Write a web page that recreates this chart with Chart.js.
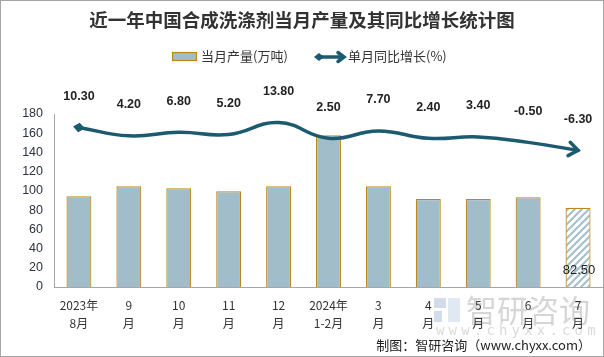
<!DOCTYPE html>
<html>
<head>
<meta charset="utf-8">
<script src="https://cdn.jsdelivr.net/npm/chart.js@4.4.1/dist/chart.umd.min.js"></script>
<style>
html,body{margin:0;padding:0;background:#fff;}
#wrap{width:604px;height:357px;position:relative;}
</style>
</head>
<body>
<div id="wrap"><canvas id="c" width="604" height="357"></canvas></div>
<script>
const titleText = '近一年中国合成洗涤剂当月产量及其同比增长统计图';
const categories = [['2023年','8月'],['9','月'],['10','月'],['11','月'],['12','月'],['2024年','1-2月'],['3','月'],['4','月'],['5','月'],['6','月'],['7','月']];
const output = [94.3, 104.8, 102.7, 99.6, 104.8, 158.0, 104.8, 91.5, 91.5, 93.3, 82.5];
const growth = [10.3, 4.2, 6.8, 5.2, 13.8, 2.5, 7.7, 2.4, 3.4, -0.5, -6.3];
const legendOutput = '当月产量(万吨)';
const legendGrowth = '单月同比增长(%)';
const yTicks = {min: 0, max: 180, step: 20};
const footerText = '制图：智研咨询（www.chyxx.com）';

const BAR = '#a1bdca', BAR_BORDER = '#b8891c', LINE = '#1c5a70', TXT = '#333333';
const CJK = '"Noto Sans CJK SC", "Liberation Sans", sans-serif';
const NUM = '"Liberation Sans", "Noto Sans CJK SC", sans-serif';

function hatch(){
  const p = document.createElement('canvas'); p.width = 7; p.height = 7;
  const g = p.getContext('2d');
  g.fillStyle = '#fff'; g.fillRect(0,0,7,7);
  g.strokeStyle = '#a3bfcc'; g.lineWidth = 2;
  g.beginPath();
  g.moveTo(-1,8); g.lineTo(8,-1);
  g.moveTo(-1,1); g.lineTo(1,-1);
  g.moveTo(6,8); g.lineTo(8,6);
  g.stroke();
  return g.createPattern(p,'repeat');
}
const ctx0 = document.getElementById('c').getContext('2d');
const pat = hatch();
const barColors = output.map((v,i)=> i === output.length-1 ? pat : BAR);

function drawArrowHead(ctx, x, y, ang, size, lw){
  ctx.save();
  ctx.translate(x,y); ctx.rotate(ang);
  ctx.strokeStyle = LINE; ctx.lineWidth = lw; ctx.lineCap='round'; ctx.lineJoin='miter';
  ctx.beginPath();
  ctx.moveTo(-size, -size*0.75); ctx.lineTo(0,0); ctx.lineTo(-size, size*0.75);
  ctx.stroke();
  ctx.restore();
}
function drawDiamond(ctx, x, y, ang, s){
  ctx.save(); ctx.translate(x,y); ctx.rotate(ang);
  ctx.fillStyle = LINE;
  ctx.beginPath(); ctx.moveTo(-s,0); ctx.lineTo(0,-s*0.8); ctx.lineTo(s,0); ctx.lineTo(0,s*0.8); ctx.closePath(); ctx.fill();
  ctx.restore();
}

const decor = {
  id:'decor',
  beforeDraw(chart){
    const ctx = chart.ctx;
    ctx.save();
    ctx.fillStyle = '#fff'; ctx.fillRect(0,0,chart.width,chart.height);
    ctx.globalAlpha = 0.9;
    ctx.fillStyle = '#cdd8e8';
    ctx.fillRect(434,298,12,10);
    ctx.fillRect(434,311,8,11);
    ctx.fillStyle = '#dde5f0';
    ctx.fillRect(448,298,12,24);
    ctx.fillStyle = '#d2d2d2';
    ctx.font = '31px ' + CJK; ctx.textBaseline='middle'; ctx.textAlign='left';
    ctx.fillText('智研咨询', 466, 310);
    ctx.font = '14px "DejaVu Sans Mono", monospace';
    ctx.fillStyle = '#d6d6d6';
    const w = 'www.chyxx.com';
    for (let i=0;i<w.length;i++) ctx.fillText(w[i], 436 + i*12.6, 331);
    ctx.restore();
  },
  afterDatasetsDraw(chart){
    const ctx = chart.ctx;
    const meta = chart.getDatasetMeta(1);
    const pts = meta.data;
    const p0 = pts[0], p1 = pts[1];
    drawDiamond(ctx, p0.x, p0.y, Math.atan2(p1.y-p0.y, p1.x-p0.x), 6);
    const pn = pts[pts.length-1];
    const cp = pn.cp1x !== undefined ? {x: pn.cp1x, y: pn.cp1y} : pts[pts.length-2];
    drawArrowHead(ctx, pn.x, pn.y, Math.atan2(pn.y-cp.y, pn.x-cp.x), 9, 3.5);
    ctx.save();
    ctx.fillStyle = '#222'; ctx.font = 'bold 12.5px ' + NUM;
    ctx.textAlign='center'; ctx.textBaseline='middle';
    pts.forEach((p,i)=>{ ctx.fillText(growth[i].toFixed(2), p.x, p.y - 31); });
    const bm = chart.getDatasetMeta(0).data;
    const lb = bm[bm.length-1];
    ctx.font = '13px ' + NUM; ctx.fillStyle = '#222';
    ctx.fillText(output[output.length-1].toFixed(2), lb.x + 1, lb.base - 17);
    ctx.restore();
  },
  afterDraw(chart){
    const ctx = chart.ctx;
    ctx.save();
    ctx.fillStyle = '#333'; ctx.font = 'bold 18.5px ' + CJK;
    ctx.textAlign='center'; ctx.textBaseline='middle';
    ctx.fillText(titleText, 302, 20);
    ctx.font = '13px ' + CJK; ctx.textAlign='left';
    ctx.fillStyle = BAR; ctx.fillRect(172.5,52.5,24,8);
    ctx.strokeStyle = BAR_BORDER; ctx.lineWidth = 1.2; ctx.strokeRect(172.5,52.5,24,8);
    ctx.fillStyle = '#333';
    ctx.fillText(legendOutput, 201, 56.5);
    ctx.strokeStyle = LINE; ctx.lineWidth = 3.5;
    ctx.beginPath(); ctx.moveTo(318,57); ctx.lineTo(342,57); ctx.stroke();
    drawDiamond(ctx, 319, 57, 0, 5);
    drawArrowHead(ctx, 344, 57, 0, 6, 3.5);
    ctx.fillStyle = '#333';
    ctx.fillText(legendGrowth, 348, 56.5);
    ctx.font = '13px ' + CJK; ctx.textAlign='right'; ctx.fillStyle='#222';
    ctx.fillText(footerText, 591, 345);
    ctx.strokeStyle = '#a6a6a6'; ctx.lineWidth = 1;
    ctx.strokeRect(0.5,0.5,chart.width-1,chart.height-1);
    ctx.restore();
  }
};

new Chart(ctx0, {
  type:'bar',
  data:{
    labels: categories,
    datasets:[
      {type:'bar', label: legendOutput, data: output, backgroundColor: barColors, borderColor: BAR_BORDER, borderWidth: 1.2, barPercentage:0.5, categoryPercentage:1.0, yAxisID:'y', order:2},
      {type:'line', label: legendGrowth, data: growth, borderColor: LINE, borderWidth: 3.5, pointRadius:0, tension:0.45, fill:false, yAxisID:'y2', order:1, borderCapStyle:'round'}
    ]
  },
  options:{
    responsive:false, animation:false,
    layout:{padding:{top:114, right:1, bottom:16, left:0}},
    plugins:{legend:{display:false}, title:{display:false}, tooltip:{enabled:false}},
    scales:{
      x:{
        grid:{display:false, drawTicks:false},
        border:{display:true, color:'#a6a6a6'},
        ticks:{color:TXT, font:{family:CJK, size:12, lineHeight:1.5}, padding:9, maxRotation:0, autoSkip:false}
      },
      y:{
        min: yTicks.min, max: yTicks.max,
        grid:{display:false, drawTicks:false},
        border:{display:true, color:'#a6a6a6'},
        ticks:{stepSize: yTicks.step, color:'#2b3240', font:{family:NUM, size:12.5}, padding:11},
        afterFit(s){ s.width = 54; }
      },
      y2:{ display:false, min:-105, max:20 }
    }
  },
  plugins:[decor]
});
</script>
</body>
</html>
